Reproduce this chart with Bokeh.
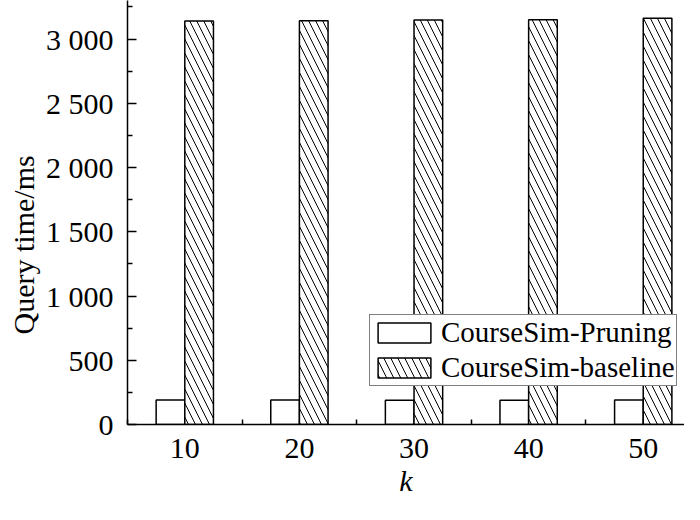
from bokeh.plotting import figure
from bokeh.models import ColumnDataSource, FixedTicker, Range1d, Title
from bokeh.transform import dodge
from bokeh.embed import file_html
from bokeh.resources import INLINE

# ---- data ----
categories = ["10", "20", "30", "40", "50"]
pruning = [190, 190, 188, 188, 190]
baseline = [3140, 3142, 3148, 3150, 3162]
series_names = ["CourseSim-Pruning", "CourseSim-baseline"]
ytick_vals = [0, 500, 1000, 1500, 2000, 2500, 3000]
ytick_labels = ["0", "500", "1 000", "1 500", "2 000", "2 500", "3 000"]
x_title = "k"
y_title = "Query time/ms"

xpos = list(range(1, len(categories) + 1))
src = ColumnDataSource(dict(x=xpos, pruning=pruning, baseline=baseline))

FONT = "Liberation Serif"
FS = "30px"

p = figure(width=684, height=504, output_backend="svg", toolbar_location=None,
           x_range=Range1d(0.5, 5.36), y_range=Range1d(0, 3300),
           min_border_left=127, min_border_right=0, min_border_top=0,
           min_border_bottom=80)
p.outline_line_color = None
p.grid.visible = False
p.background_fill_color = "white"
p.border_fill_color = "white"

bw = 0.25
p.vbar(x=dodge("x", -bw / 2), top="pruning", width=bw, source=src,
       fill_color="white", line_color="black", line_width=1.5,
       legend_label=series_names[0])
p.vbar(x=dodge("x", bw / 2), top="baseline", width=bw, source=src,
       fill_color="white", line_color="black", line_width=1.5,
       hatch_pattern="\\", hatch_color="black", hatch_scale=14, hatch_weight=1,
       legend_label=series_names[1])

# x axis
xa = p.xaxis[0]
xa.ticker = FixedTicker(ticks=xpos, minor_ticks=[v - 0.5 for v in xpos] + [xpos[-1] + 0.5])
xa.major_label_overrides = {v: c for v, c in zip(xpos, categories)}
xa.major_tick_line_color = None
xa.minor_tick_in = 5
xa.minor_tick_out = 0
xa.minor_tick_line_color = "black"
xa.minor_tick_line_width = 1.5
xa.axis_line_width = 1.5
xa.axis_line_color = "black"
xa.major_label_text_font = FONT
xa.major_label_text_font_size = FS
xa.major_label_text_color = "black"
xa.major_label_standoff = 8
xa.axis_label = x_title
xa.axis_label_text_font = FONT
xa.axis_label_text_font_style = "italic"
xa.axis_label_text_font_size = FS
xa.axis_label_text_color = "black"
xa.axis_label_standoff = 3

# y axis
ya = p.yaxis[0]
ya.ticker = FixedTicker(ticks=ytick_vals, minor_ticks=[v + 250 for v in ytick_vals])
ya.major_label_overrides = {v: s for v, s in zip(ytick_vals, ytick_labels)}
ya.major_tick_in = 9
ya.major_tick_out = 0
ya.minor_tick_in = 5
ya.minor_tick_out = 0
ya.major_tick_line_width = 1.5
ya.minor_tick_line_width = 1.5
ya.axis_line_width = 1.5
ya.axis_line_color = "black"
ya.major_label_text_font = FONT
ya.major_label_text_font_size = FS
ya.major_label_text_color = "black"
ya.major_label_standoff = 14

# y title as a left-side title, shifted a little below the frame centre
ytitle = Title(text=y_title, align="left", offset=90, standoff=6,
               text_font=FONT, text_font_size=FS, text_font_style="normal",
               text_color="black")
p.add_layout(ytitle, "left")

# legend
lg = p.legend[0]
lg.location = (242, 38)
lg.glyph_width = 66
lg.glyph_height = 25
lg.label_standoff = 4
lg.label_text_font = FONT
lg.label_text_font_size = "29px"
lg.label_text_color = "black"
lg.label_height = 28
lg.spacing = 2
lg.padding = 1
lg.margin = 0
lg.border_line_color = "black"
lg.border_line_width = 1.5
lg.background_fill_color = "white"
lg.background_fill_alpha = 1.0

open("out.html", "w").write(file_html(p, INLINE))
